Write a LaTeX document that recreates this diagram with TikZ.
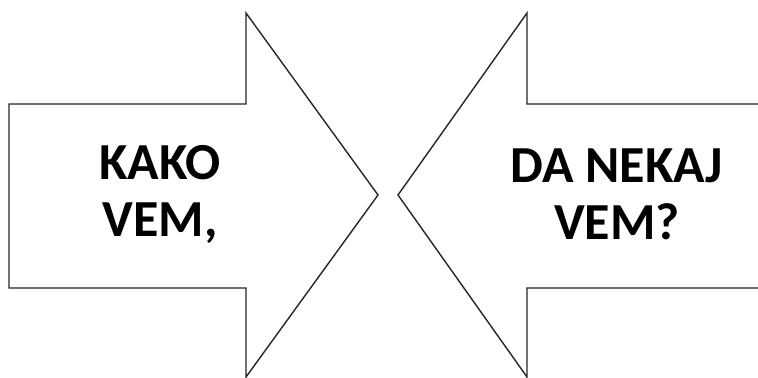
\documentclass[tikz,border=0pt]{standalone}
\usepackage{fontspec}
\setmainfont{Carlito}
\usepackage{tikz}
\usetikzlibrary{positioning}

\begin{document}
\begin{tikzpicture}[
        x=0.5pt, y=-0.5pt,
        every node/.style={font=\fontsize{26}{28.5}\selectfont\bfseries},
        bigarrow/.style={draw=black!85, line width=0.7pt, fill=white, line join=miter},
        label/.style={align=center, inner sep=0pt}
    ]
    \useasboundingbox (0,0) rectangle (758,377);
    \clip (0,0) rectangle (758,377);

    % Arrows
    \draw [bigarrow] (9,104) -- (246,104) -- (246,13) -- (378,195) -- (246,377) -- (246,288) -- (9,288) -- cycle;
    \draw [bigarrow] (790,104) -- (527,104) -- (527,13) -- (398,195) -- (527,377) -- (527,288) -- (790,288) -- cycle;

    % Texts
    \node (Kako) [label] at (160,194) {KAKO\\VEM,};
    \node (Nekaj) [label] at (617,194) {DA NEKAJ\\VEM?};

\end{tikzpicture}
\end{document}
